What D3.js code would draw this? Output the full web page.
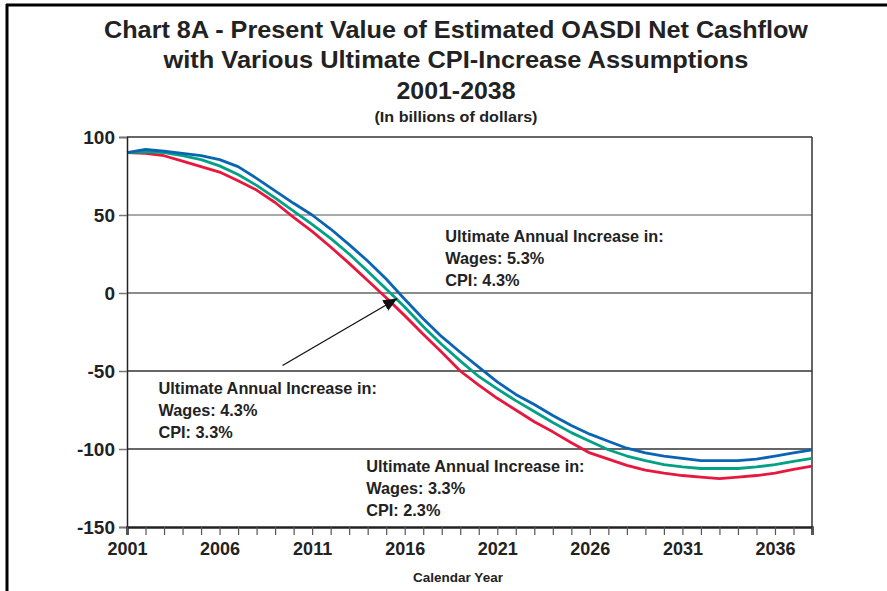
<!DOCTYPE html>
<html><head><meta charset="utf-8">
<script src="https://cdn.jsdelivr.net/npm/d3@7"></script>
<style>
body{margin:0;background:#fff;}
svg{display:block;font-family:"Liberation Sans",Arial,sans-serif;}
</style></head>
<body><svg id="c" width="887" height="591"></svg>
<script>
const years = d3.range(2001, 2039);
const yTicks = [-150, -100, -50, 0, 50, 100];
const xTickLabels = [2001, 2006, 2011, 2016, 2021, 2026, 2031, 2036];
// Wages 5.3%, CPI 4.3%
const highSeries = [90,92,91,89.5,88,85.5,81,73.5,65.5,57.5,50,41,31,20.5,9,-4,-16.5,-28,-38,-47.5,-57,-65,-71.5,-78.5,-85,-90.5,-95,-99.5,-102.5,-104.5,-106,-107.5,-107.5,-107.5,-106.5,-104.5,-102.5,-100.5];
// Wages 4.3%, CPI 3.3%
const midSeries = [90,90.5,90,88,85.5,81.5,76,69,61,52.5,44,35,25,14,2.5,-9,-21.5,-33,-43.5,-53.5,-61.5,-69,-76,-83,-89.5,-95,-100.5,-104.5,-107.5,-110,-111.5,-112.5,-112.5,-112.5,-111.5,-110,-108,-106];
// Wages 3.3%, CPI 2.3%
const lowSeries = [90,89.5,88,84.5,81,77.5,72,66,58,48.5,39.5,29.5,19,8,-3,-14.5,-26.5,-38,-50,-59,-67.5,-75,-82.5,-89,-96,-102.5,-106.5,-110.5,-113.5,-115.5,-117,-118,-119,-118,-117,-115.5,-113,-111];
const seriesNames = ["Wages 5.3% / CPI 4.3%", "Wages 4.3% / CPI 3.3%", "Wages 3.3% / CPI 2.3%"];
const seriesColors = ["#0a64b4", "#00a184", "#e8173e"];
const titleLines = ["Chart 8A - Present Value of Estimated OASDI Net Cashflow", "with Various Ultimate CPI-Increase Assumptions", "2001-2038"];
const subtitle = "(In billions of dollars)";
const xTitle = "Calendar Year";
const notes = [
  {year: 2018.19, value: 32.8, lines: ["Ultimate Annual Increase in:", "Wages:  5.3%", "CPI:  4.3%"]},
  {year: 2002.7, value: -64.7, lines: ["Ultimate Annual Increase in:", "Wages:  4.3%", "CPI:  3.3%"]},
  {year: 2013.92, value: -114.7, lines: ["Ultimate Annual Increase in:", "Wages:  3.3%", "CPI:  2.3%"]}
];
const arrowFrom = {year: 2009.4, value: -46.5};
const arrowTo = {year: 2015.6, value: -3.5};

const svg = d3.select("#c");
const x = d3.scaleLinear().domain([2001, 2038]).range([127, 812]);
const y = d3.scaleLinear().domain([-150, 100]).range([527, 137]);

// outer frame
svg.append("line").attr("x1", 6).attr("x2", 887).attr("y1", 5).attr("y2", 5).attr("stroke", "#000").attr("stroke-width", 3);
svg.append("line").attr("x1", 7).attr("x2", 7).attr("y1", 4).attr("y2", 591).attr("stroke", "#000").attr("stroke-width", 3);

// titles
const tl = [{t: titleLines[0], y: 38, len: 704}, {t: titleLines[1], y: 68, len: 585}, {t: titleLines[2], y: 99, len: 119}];
tl.forEach(d => {
  svg.append("text").attr("x", 456).attr("y", d.y).attr("text-anchor", "middle")
    .attr("font-size", 24).attr("font-weight", "bold").attr("fill", "#222")
    .attr("textLength", d.len).attr("lengthAdjust", "spacingAndGlyphs").text(d.t);
});
svg.append("text").attr("x", 456).attr("y", 122).attr("text-anchor", "middle")
  .attr("font-size", 15).attr("font-weight", "bold").attr("fill", "#222")
  .attr("textLength", 163).attr("lengthAdjust", "spacingAndGlyphs").text(subtitle);

// gridlines
const gridColor = {"50": "#8c8c8c", "0": "#666", "-50": "#333", "-100": "#333", "100": "#333"};
[100, 50, 0, -50, -100].forEach(v => {
  svg.append("line").attr("x1", x(2001)).attr("x2", x(2038)).attr("y1", y(v)).attr("y2", y(v))
    .attr("stroke", gridColor[String(v)]).attr("stroke-width", 1.5);
});
// right border
svg.append("line").attr("x1", x(2038)).attr("x2", x(2038)).attr("y1", y(100)).attr("y2", y(-150))
  .attr("stroke", "#333").attr("stroke-width", 1.5);

// series
const line = d3.line().x((d, i) => x(years[i])).y(d => y(d));
[highSeries, midSeries, lowSeries].map((s, i) => ({s, i})).reverse().forEach(({s, i}) => {
  svg.append("path").datum(s).attr("d", line).attr("fill", "none")
    .attr("stroke", seriesColors[i]).attr("stroke-width", 2.8).attr("stroke-linejoin", "round")
    .append("title").text(seriesNames[i]);
});

// axes
const yAxis = d3.axisLeft(y).tickValues(yTicks).tickSize(8).tickPadding(4).tickFormat(d => String(d));
const gy = svg.append("g").attr("transform", `translate(${x(2001)},0)`).call(yAxis);
gy.select(".domain").attr("stroke", "#222").attr("stroke-width", 1.5);
gy.selectAll(".tick line").attr("stroke", "#777").attr("stroke-width", 1.5);
gy.selectAll(".tick text").attr("font-size", 19).attr("font-weight", "bold").attr("fill", "#222")
  .attr("font-family", "Liberation Sans, Arial, sans-serif");

const xAxis = d3.axisBottom(x).tickValues(years).tickSize(8).tickPadding(7)
  .tickFormat(d => xTickLabels.includes(d) ? String(d) : "");
const gx = svg.append("g").attr("transform", `translate(0,${y(-150)})`).call(xAxis);
gx.select(".domain").attr("stroke", "#222").attr("stroke-width", 2.5);
gx.selectAll(".tick line").attr("stroke", "#555").attr("stroke-width", 1.2);
gx.selectAll(".tick text").attr("font-size", 18).attr("font-weight", "bold").attr("fill", "#222")
  .attr("font-family", "Liberation Sans, Arial, sans-serif");

svg.append("text").attr("x", 458).attr("y", 582).attr("text-anchor", "middle")
  .attr("font-size", 13.5).attr("font-weight", "bold").attr("fill", "#222").text(xTitle);

// annotations
notes.forEach(n => {
  const g = svg.append("text").attr("font-size", 16.3).attr("font-weight", "bold").attr("fill", "#222");
  n.lines.forEach((t, k) => {
    g.append("tspan").attr("x", x(n.year)).attr("y", y(n.value) + k * 22).text(t);
  });
});

// arrow
svg.append("defs").append("marker").attr("id", "ah").attr("viewBox", "0 0 14 12")
  .attr("refX", 14).attr("refY", 6).attr("markerWidth", 14).attr("markerHeight", 12)
  .attr("markerUnits", "userSpaceOnUse").attr("orient", "auto")
  .append("path").attr("d", "M0,0 L14,6 L0,12 Z").attr("fill", "#111");
svg.append("line").attr("x1", x(arrowFrom.year)).attr("y1", y(arrowFrom.value))
  .attr("x2", x(arrowTo.year)).attr("y2", y(arrowTo.value))
  .attr("stroke", "#111").attr("stroke-width", 1.3).attr("marker-end", "url(#ah)");
</script></body></html>
